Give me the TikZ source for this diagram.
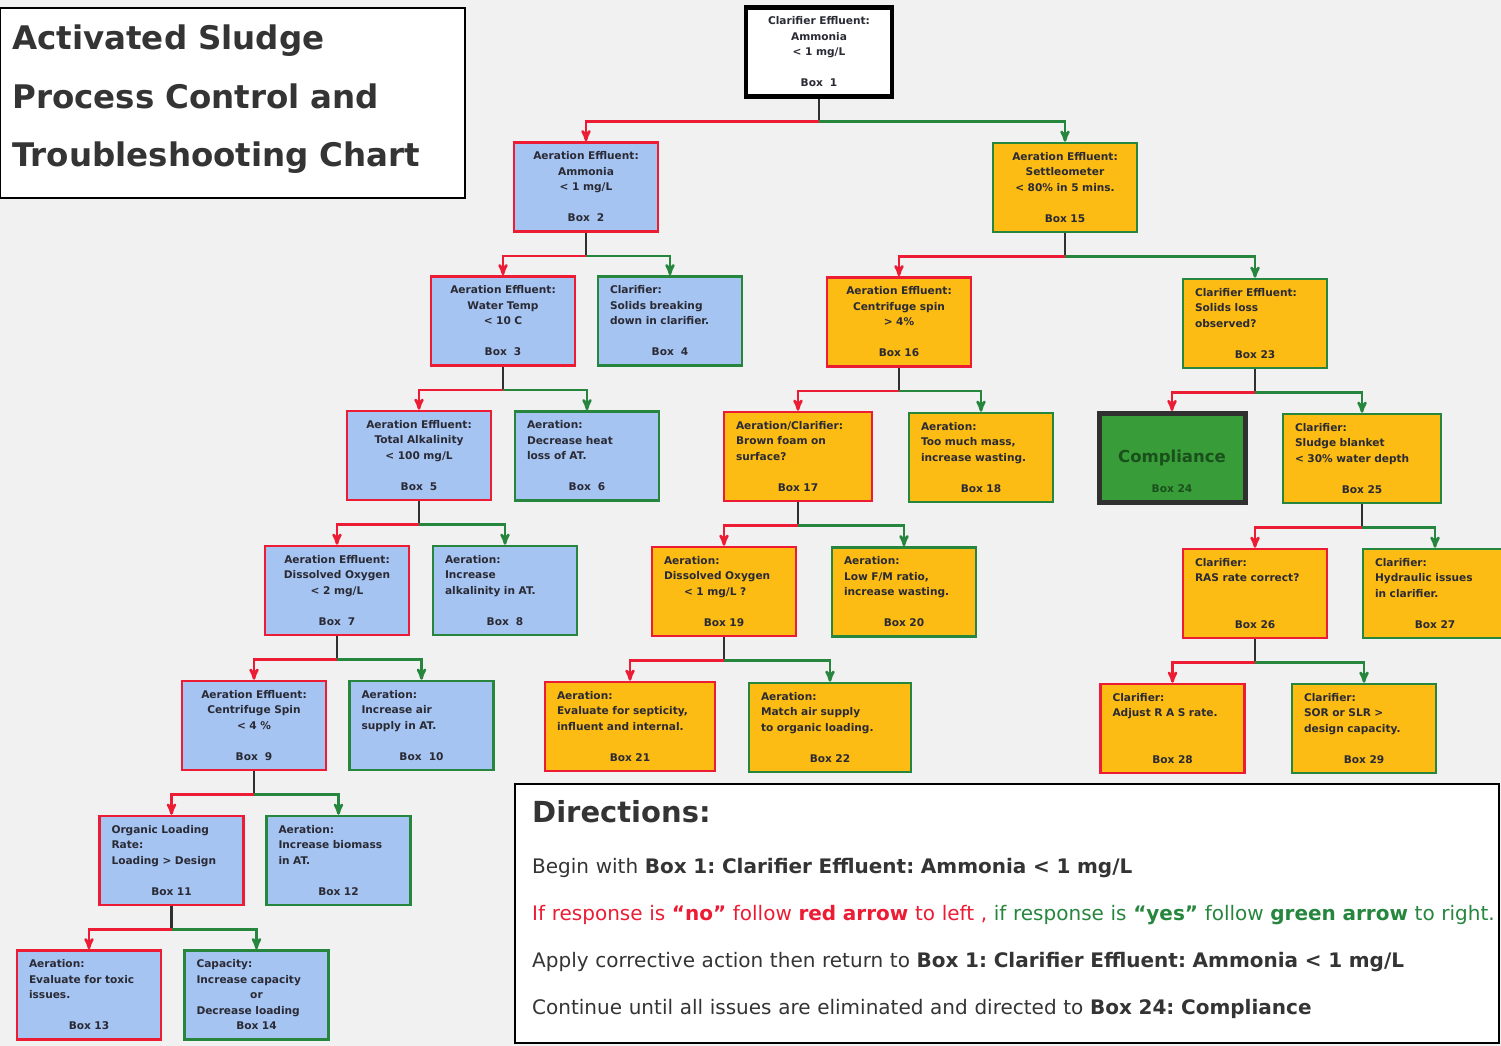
\documentclass[tikz,border=0pt]{standalone}
\usepackage{fontspec}
\setmainfont{DejaVu Sans}
\usetikzlibrary{arrows}
\frenchspacing
\definecolor{aerblue}{RGB}{166,196,242}
\definecolor{solorange}{RGB}{252,188,20}
\definecolor{nored}{RGB}{236,28,52}
\definecolor{yesgreen}{RGB}{38,134,62}
\definecolor{compgreen}{RGB}{56,156,56}
\definecolor{compdark}{RGB}{26,80,28}
\definecolor{boxtext}{RGB}{42,42,52}
\definecolor{stemgray}{RGB}{48,48,48}
\definecolor{paper}{RGB}{241,241,241}
\definecolor{inktext}{RGB}{52,52,52}
\tikzset{
  chart/.style={draw, line width=2.6pt, minimum height=89pt, inner xsep=12pt, inner ysep=0pt,
    text width=120pt, align=left, text=boxtext, font=\bfseries\fontsize{10.6}{15.5}\selectfont},
  aer/.style={chart, fill=aerblue},
  sol/.style={chart, fill=solorange},
  nobox/.style={draw=nored},
  yesbox/.style={draw=yesgreen},
  ctr/.style={align=center},
  stem/.style={stemgray, line width=2.6pt},
  noarrow/.style={nored, line width=2.6pt, ->, >=stealth'},
  yesarrow/.style={yesgreen, line width=2.6pt, ->, >=stealth'},
  frame/.style={draw=black, line width=1.6pt, fill=white}
}
\newcommand{\boxno}[1]{\makebox[\linewidth]{Box~#1}}
\begin{document}
\begin{tikzpicture}[x=1pt, y=-1pt]
\useasboundingbox (0,0) rectangle (1501,1046);
\fill[paper] (0,0) rectangle (1501,1046);
\draw[frame] (0,8) rectangle (465,198);
\node[anchor=base west, inner sep=0pt, text width=450pt, align=left, text=inktext,
  font=\bfseries\fontsize{32.5}{58.5}\selectfont] (title) at (12,50)
  {Activated Sludge\\Process Control and\\Troubleshooting Chart};
\draw[frame] (515,784) rectangle (1499,1043);
\node[anchor=base west, inner sep=0pt, text width=965pt, align=left, text=inktext,
  font=\fontsize{20}{47}\selectfont] (dirs) at (532,822)
  {{\bfseries\fontsize{29}{35}\selectfont Directions:}\\[4pt]
   Begin with \textbf{Box 1: Clarifier Effluent: Ammonia < 1 mg/L}\\
   {\color{nored}If response is \textbf{“no”} follow \textbf{red arrow} to left ,} {\color{yesgreen}if response is \textbf{“yes”} follow \textbf{green arrow} to right.}\\
   Apply corrective action then return to \textbf{Box 1: Clarifier Effluent: Ammonia < 1 mg/L}\\
   Continue until all issues are eliminated and directed to \textbf{Box 24: Compliance}};
% question and action boxes
\node[chart, ctr, fill=white, draw=black, line width=4.5pt, text width=122pt] (b1) at (819,52)
  {Clarifier Effluent:\\Ammonia\\< 1 mg/L\\[15.5pt]Box~~1};
\node[aer, nobox, ctr] (b2) at (586,187) {Aeration Effluent:\\Ammonia\\< 1 mg/L\\[15.5pt]Box~~2};
\node[aer, nobox, ctr] (b3) at (503,321) {Aeration Effluent:\\Water Temp\\< 10 C\\[15.5pt]Box~~3};
\node[aer, yesbox] (b4) at (670,321) {Clarifier:\\Solids breaking\\down in clarifier.\\[15.5pt]\boxno{~4}};
\node[aer, nobox, ctr] (b5) at (419,455.5) {Aeration Effluent:\\Total Alkalinity\\< 100 mg/L\\[15.5pt]Box~~5};
\node[aer, yesbox] (b6) at (587,456) {Aeration:\\Decrease heat\\loss of AT.\\[15.5pt]\boxno{~6}};
\node[aer, nobox, ctr] (b7) at (337,590.5) {Aeration Effluent:\\Dissolved Oxygen\\< 2 mg/L\\[15.5pt]Box~~7};
\node[aer, yesbox] (b8) at (505,590.5) {Aeration:\\Increase\\alkalinity in AT.\\[15.5pt]\boxno{~8}};
\node[aer, nobox, ctr] (b9) at (254,725.5) {Aeration Effluent:\\Centrifuge Spin\\< 4 \%\\[15.5pt]Box~~9};
\node[aer, yesbox] (b10) at (421.5,725.5) {Aeration:\\Increase air\\supply in AT.\\[15.5pt]\boxno{~10}};
\node[aer, nobox] (b11) at (171.5,860.5) {Organic Loading\\Rate:\\Loading > Design\\[15.5pt]\boxno{11}};
\node[aer, yesbox] (b12) at (338.5,860.5) {Aeration:\\Increase biomass\\in AT.\\[15.5pt]\boxno{12}};
\node[aer, nobox] (b13) at (89,995) {Aeration:\\Evaluate for toxic\\issues.\\[15.5pt]\boxno{13}};
\node[aer, yesbox] (b14) at (256.5,995) {Capacity:\\Increase capacity\\\makebox[\linewidth]{or}\\Decrease loading\\\boxno{14}};
\node[sol, yesbox, ctr] (b15) at (1065,187.5) {Aeration Effluent:\\Settleometer\\< 80\% in 5 mins.\\[15.5pt]Box 15};
\node[sol, nobox, ctr] (b16) at (899,322) {Aeration Effluent:\\Centrifuge spin\\> 4\%\\[15.5pt]Box 16};
\node[sol, nobox, text width=124pt] (b17) at (798,456.5) {Aeration/Clarifier:\\Brown foam on\\surface?\\[15.5pt]\boxno{17}};
\node[sol, yesbox] (b18) at (981,457.5) {Aeration:\\Too much mass,\\increase wasting.\\[15.5pt]\boxno{18}};
\node[sol, nobox] (b19) at (724,591.5) {Aeration:\\Dissolved Oxygen\\\hspace*{20pt}< 1 mg/L ?\\[15.5pt]\boxno{19}};
\node[sol, yesbox] (b20) at (904,592) {Aeration:\\Low F/M ratio,\\increase wasting.\\[15.5pt]\boxno{20}};
\node[sol, nobox, text width=146pt] (b21) at (630,726.5) {Aeration:\\Evaluate for septicity,\\influent and internal.\\[15.5pt]\boxno{21}};
\node[sol, yesbox, text width=138pt] (b22) at (830,727.5) {Aeration:\\Match air supply\\to organic loading.\\[15.5pt]\boxno{22}};
\node[sol, yesbox] (b23) at (1255,323.5) {Clarifier Effluent:\\Solids loss\\observed?\\[15.5pt]\boxno{23}};
\node[chart, ctr, fill=compgreen, draw=stemgray, line width=5pt, text width=122pt, text=compdark,
  font=\bfseries\fontsize{16.5}{20}\selectfont,
  label={[anchor=south, inner sep=0pt, yshift=12pt, text=compdark, font=\bfseries\fontsize{10.6}{12}\selectfont]south:Box 24}]
  (b24) at (1172,458) {Compliance};
\node[sol, yesbox, text width=134pt] (b25) at (1362,458.5) {Clarifier:\\Sludge blanket\\< 30\% water depth\\[15.5pt]\boxno{25}};
\node[sol, nobox] (b26) at (1255,593.5) {Clarifier:\\RAS rate correct?\\[31pt]\boxno{26}};
\node[sol, yesbox] (b27) at (1435,593.5) {Clarifier:\\Hydraulic issues\\in clarifier.\\[15.5pt]\boxno{27}};
\node[sol, nobox] (b28) at (1172.5,728.5) {Clarifier:\\Adjust R A S rate.\\[31pt]\boxno{28}};
\node[sol, yesbox] (b29) at (1364,728.5) {Clarifier:\\SOR or SLR >\\design capacity.\\[15.5pt]\boxno{29}};
% no to the left, yes to the right
\foreach \p/\n/\y in {b1/b2/b15, b2/b3/b4, b15/b16/b23, b3/b5/b6, b16/b17/b18, b23/b24/b25,
    b5/b7/b8, b17/b19/b20, b25/b26/b27, b7/b9/b10, b19/b21/b22, b26/b28/b29, b9/b11/b12, b11/b13/b14} {
  \draw[stem] (\p.south) -- ++(0,23) coordinate (j);
  \draw[noarrow] (j) -| (\n.north);
  \draw[yesarrow] (j) -| (\y.north);
}
\end{tikzpicture}
\end{document}
